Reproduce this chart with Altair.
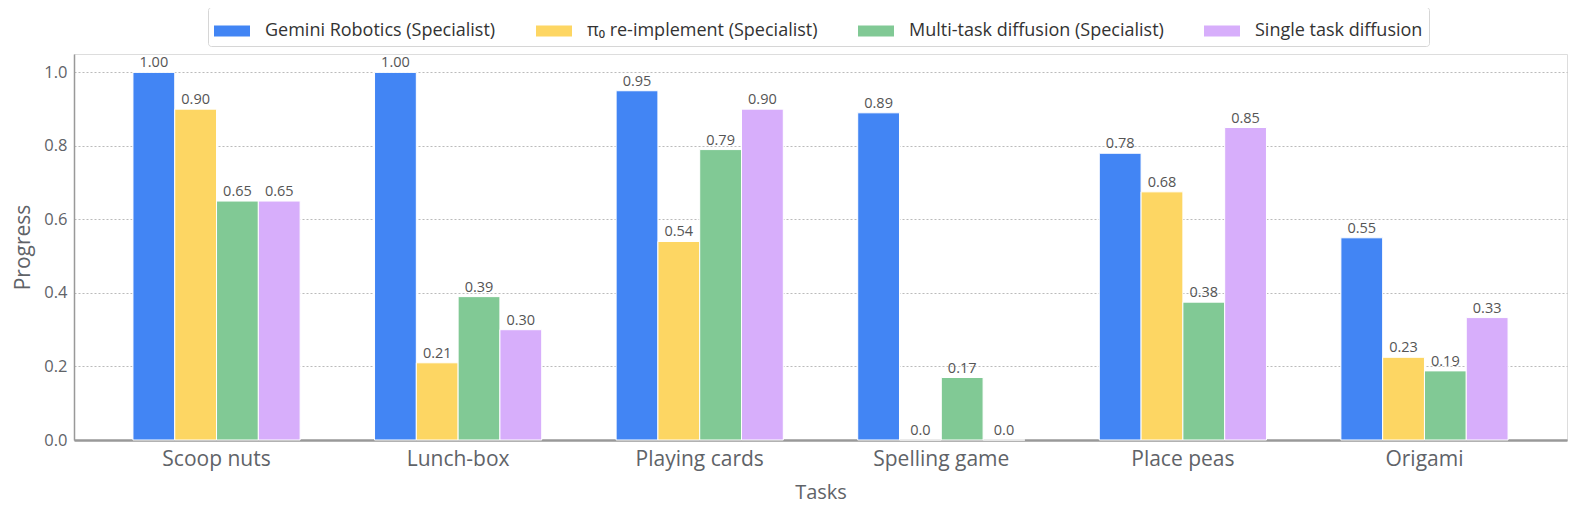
import altair as alt
import pandas as pd

tasks = ["Scoop nuts", "Lunch-box", "Playing cards", "Spelling game", "Place peas", "Origami"]
series = [
    "Gemini Robotics (Specialist)",
    "π₀ re-implement (Specialist)",
    "Multi-task diffusion (Specialist)",
    "Single task diffusion",
]
gemini = [1.00, 1.00, 0.95, 0.89, 0.78, 0.55]
pi0 = [0.90, 0.21, 0.54, 0.0, 0.675, 0.225]
multitask = [0.65, 0.39, 0.79, 0.17, 0.375, 0.188]
single = [0.65, 0.30, 0.90, 0.0, 0.85, 0.333]
gemini_lbl = ["1.00", "1.00", "0.95", "0.89", "0.78", "0.55"]
pi0_lbl = ["0.90", "0.21", "0.54", "0.0", "0.68", "0.23"]
multitask_lbl = ["0.65", "0.39", "0.79", "0.17", "0.38", "0.19"]
single_lbl = ["0.65", "0.30", "0.90", "0.0", "0.85", "0.33"]
colors = ["#4285F4", "#FDD663", "#81C995", "#D7AEFB"]

rows = []
for s, vals, lbls in zip(series, [gemini, pi0, multitask, single],
                         [gemini_lbl, pi0_lbl, multitask_lbl, single_lbl]):
    for t, v, l in zip(tasks, vals, lbls):
        rows.append({"Task": t, "Series": s, "Value": v, "Label": l})
df = pd.DataFrame(rows)

FONT = "Open Sans"
GRAY = "#5f6368"

x_enc = alt.X("Task:N", sort=tasks, title="Tasks",
              scale=alt.Scale(paddingInner=0.308, paddingOuter=0.244),
              axis=alt.Axis(labelAngle=0, labelFontSize=21, labelColor=GRAY,
                            titleFontSize=20, titleColor=GRAY, titleFontWeight="normal",
                            labelPadding=8, titlePadding=13, ticks=False,
                            domainColor="#999", domainWidth=2.5, grid=False))
xo_enc = alt.XOffset("Series:N", sort=series, scale=alt.Scale(paddingInner=0.0))
y_enc = alt.Y("Value:Q", title="Progress",
              scale=alt.Scale(domain=[0, 1.05], nice=False),
              axis=alt.Axis(values=[0, 0.2, 0.4, 0.6, 0.8, 1.0], format=".1f",
                            labelFontSize=16.5, labelColor=GRAY, ticks=False,
                            labelPadding=7,
                            titleFontSize=21, titleColor=GRAY, titleFontWeight="normal",
                            titlePadding=10,
                            domainColor="#999", domainWidth=1.5,
                            gridColor="#aaa", gridDash=[2, 2], gridWidth=0.8))

legend_shape = "M-1,-0.31L1,-0.31L1,0.31L-1,0.31Z"

bars = alt.Chart(df).mark_bar(stroke="white", strokeWidth=1).encode(
    x=x_enc,
    xOffset=xo_enc,
    y=y_enc,
    color=alt.Color("Series:N", sort=series,
                    scale=alt.Scale(domain=series, range=colors),
                    legend=alt.Legend(title=None, orient="none", legendX=134, legendY=-47,
                                      direction="horizontal", strokeColor="#d6d6d6",
                                      padding=6, cornerRadius=3,
                                      symbolType=legend_shape, symbolSize=1296,
                                      symbolStrokeWidth=0, symbolOpacity=1,
                                      labelFontSize=18, labelColor="#333", labelFont=FONT,
                                      labelOffset=15, columnPadding=40,
                                      labelLimit=400)),
)

texts = alt.Chart(df).mark_text(baseline="bottom", dy=-2, fontSize=14.5, color="#555",
                                font=FONT).encode(
    x=alt.X("Task:N", sort=tasks),
    xOffset=alt.XOffset("Series:N", sort=series),
    y=alt.Y("Value:Q"),
    text="Label:N",
)

chart = (bars + texts).properties(
    width=1493, height=386,
    autosize=alt.AutoSizeParams(type="none"),
    padding={"left": 66, "top": 46, "right": 2, "bottom": 70},
).configure_view(stroke=None).configure(font=FONT)

chart.save("out.html", embed_options={"renderer": "svg", "actions": False})
